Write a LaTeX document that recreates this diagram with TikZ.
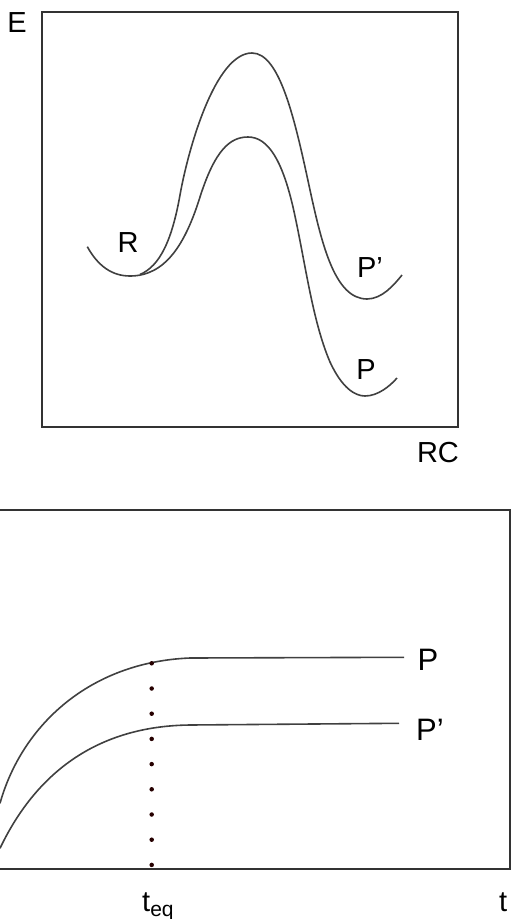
\documentclass[tikz,border=0pt]{standalone}
\usepackage{fontspec}
\setmainfont{Liberation Sans}
\begin{document}
\begin{tikzpicture}[x=1pt,y=-1pt,
  lbl/.style={inner sep=0pt, font=\fontsize{29}{31}\selectfont},
  axisline/.style={draw=black!80, line width=1.8pt},
  curve/.style={draw=black!75, line width=1.6pt},
  dotmark/.style={circle, fill=black!85!red, inner sep=0pt, minimum size=4.5pt}]
\useasboundingbox (0,0) rectangle (511,919);
% top panel
\draw[axisline] (41.7,11.7) rectangle (457.7,426.7);
\node[lbl] (E) at (17,23) {E};
\node[lbl] (RC) at (438,453) {RC};
\draw[curve] (87.3,246.7) .. controls (98,266) and (112,276) .. (130,276)
  .. controls (165,276) and (185,245) .. (200,197)
  .. controls (215,150) and (230,137) .. (248,137)
  .. controls (268,137) and (282,160) .. (293,207)
  .. controls (305,260) and (312,320) .. (330,362)
  .. controls (342,388) and (355,396) .. (365,396)
  .. controls (378,396) and (390,386) .. (397,378);
\draw[curve] (140,274.5) .. controls (160,266) and (172,240) .. (180,195)
  .. controls (188,150) and (215,53) .. (252,53)
  .. controls (280,53) and (295,120) .. (310,190)
  .. controls (322,245) and (335,299) .. (367,299)
  .. controls (382,299) and (394,285) .. (402,275);
\node[lbl] (R) at (128,243) {R};
\node[lbl] (Pp1) at (370,268) {P’};
\node[lbl] (P1) at (366,370) {P};
% bottom panel
\coordinate (bl) at (0,510);
\coordinate (br) at (510,510);
\coordinate (cl) at (0,869);
\coordinate (cr) at (511,869);
\draw[axisline] (bl) -- (511,510);
\draw[axisline] (cl) -- (cr);
\draw[axisline] (br) -- (510,869);
\draw[curve] (0,803.3) .. controls (22,725) and (90,662) .. (190,658) -- (404,657.3);
\draw[curve] (0,848.3) .. controls (35,775) and (95,726) .. (190,725) -- (399,723.3);
\foreach \i in {0,...,8} {
  \node[dotmark] (d\i) at (151.7,663.3+25.2*\i) {};
}
\node[lbl, font=\fontsize{31}{33}\selectfont] (P2) at (428,660) {P};
\node[lbl, font=\fontsize{31}{33}\selectfont] (Pp2) at (430,730) {P’};
\node[lbl, anchor=base west] (teq) at (142,911) {t{\fontsize{21}{21}\selectfont\raisebox{-5pt}{eq}}};
\node[lbl, anchor=base west] (t) at (499,911) {t};
\end{tikzpicture}
\end{document}
